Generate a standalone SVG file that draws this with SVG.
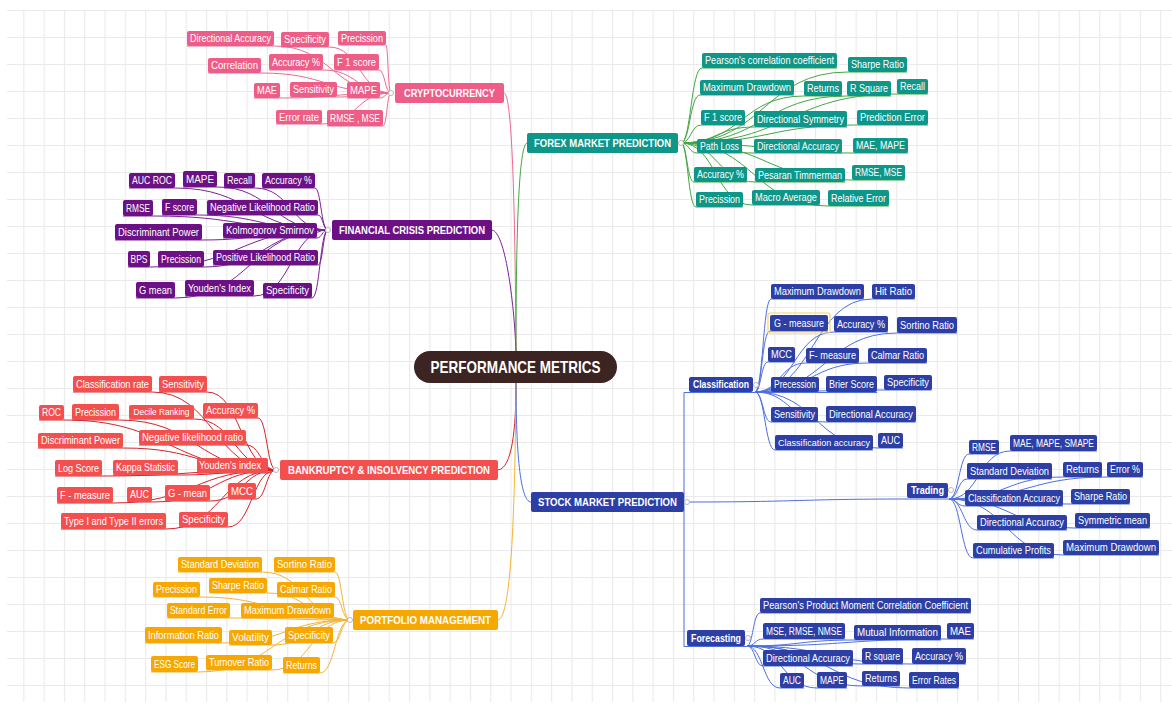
<svg xmlns="http://www.w3.org/2000/svg" width="1172" height="708" viewBox="0 0 1172 708">
<style>
text{font-family:"Liberation Sans",Arial,sans-serif;fill:#fff;text-anchor:middle;font-size:10.5px}
.b{font-weight:bold;font-size:11.5px}
.s{font-weight:bold;font-size:10.5px}
.pk rect{fill:#ee5c88}
.pu rect{fill:#6b1185}
.rd rect{fill:#f44f4f}
.or rect{fill:#f7a800}
.tl rect{fill:#0e9688}
.bl rect{fill:#2d3fa5}
#connectors path{fill:none;stroke-width:1}
.cpk path{stroke:#ec6a92}
.cpu path{stroke:#7b2296}
.crd path{stroke:#d4242a}
.cor path{stroke:#f5b335}
.ctl path{stroke:#44a644}
.cbl path{stroke:#4d6fe0}
.mk{fill:#fff;stroke:#b8b8b8;stroke-width:1}
</style>
<defs>
<pattern id="grid" x="3" y="10" width="20.3" height="27" patternUnits="userSpaceOnUse">
<path d="M0,0.5H20.3M0.5,0V27" stroke="#eaeaea" stroke-width="1.2" fill="none"/>
</pattern>
</defs>
<rect width="1172" height="708" fill="#fff"/>
<rect x="7" y="10" width="1165" height="692" fill="url(#grid)"/>

<g id="connectors">
<g class="cpk">
<path d="M504,93C512,93 515,200 516,351"/>
<path d="M187,46H274C332,46 332,93 391,93"/>
<path d="M281,47H329C360,47 360,93 391,93"/>
<path d="M338,45H386C388,45 388,93 391,93"/>
<path d="M208,73H261C326,73 326,93 391,93"/>
<path d="M269,70H323C357,70 357,93 391,93"/>
<path d="M334,70H379C385,70 385,93 391,93"/>
<path d="M254,98H280C335,98 335,93 391,93"/>
<path d="M290,97H337C364,97 364,93 391,93"/>
<path d="M347,98H380C385,98 385,93 391,93"/>
<path d="M276,124H322C356,124 356,93 391,93"/>
<path d="M327,126H383C387,126 387,93 391,93"/>
</g>
<g class="cpu">
<path d="M492,230C505,232 514,300 516,351"/>
<path d="M129,188H175C251,188 251,230 328,230"/>
<path d="M183,187H217C272,187 272,230 328,230"/>
<path d="M224,188H255C291,188 291,230 328,230"/>
<path d="M262,188H315C321,188 321,230 328,230"/>
<path d="M123,216H153C240,216 240,230 328,230"/>
<path d="M162,215H197C262,215 262,230 328,230"/>
<path d="M207,215H318C323,215 323,230 328,230"/>
<path d="M115,240H202C265,240 265,230 328,230"/>
<path d="M223,238H317C322,238 322,230 328,230"/>
<path d="M128,267H150C239,267 239,230 328,230"/>
<path d="M158,267H204C266,267 266,230 328,230"/>
<path d="M213,265H318C323,265 323,230 328,230"/>
<path d="M136,298H175C251,298 251,230 328,230"/>
<path d="M185,296H254C291,296 291,230 328,230"/>
<path d="M263,298H312C320,298 320,230 328,230"/>
</g>
<g class="crd">
<path d="M516,383C516,430 512,468 498,470"/>
<path d="M73,392H152C214,392 214,470 276,470"/>
<path d="M159,392H207C241,392 241,470 276,470"/>
<path d="M203,418H258C267,418 267,470 276,470"/>
<path d="M39,420H64C170,420 170,470 276,470"/>
<path d="M72,420H119C197,420 197,470 276,470"/>
<path d="M129,419H194C235,419 235,470 276,470"/>
<path d="M139,445H246C261,445 261,470 276,470"/>
<path d="M38,448H123C199,448 199,470 276,470"/>
<path d="M197,473H268C272,473 272,470 276,470"/>
<path d="M55,476H102C189,476 189,470 276,470"/>
<path d="M113,475H178C227,475 227,470 276,470"/>
<path d="M57,503H113C194,503 194,470 276,470"/>
<path d="M127,502H152C214,502 214,470 276,470"/>
<path d="M165,501H210C243,501 243,470 276,470"/>
<path d="M228,499H256C266,499 266,470 276,470"/>
<path d="M61,529H166C221,529 221,470 276,470"/>
<path d="M179,527H228C252,527 252,470 276,470"/>
</g>
<g class="cor">
<path d="M516,383C515,500 512,618 498,620"/>
<path d="M178,572H262C306,572 306,620 350,620"/>
<path d="M274,572H335C342,572 342,620 350,620"/>
<path d="M153,597H200C275,597 275,620 350,620"/>
<path d="M209,593H267C308,593 308,620 350,620"/>
<path d="M277,597H335C342,597 342,620 350,620"/>
<path d="M167,618H230C290,618 290,620 350,620"/>
<path d="M241,618H334C342,618 342,620 350,620"/>
<path d="M145,643H222C286,643 286,620 350,620"/>
<path d="M229,645H272C311,645 311,620 350,620"/>
<path d="M285,643H333C341,643 341,620 350,620"/>
<path d="M151,672H198C274,672 274,620 350,620"/>
<path d="M206,670H272C311,670 311,620 350,620"/>
<path d="M283,673H320C335,673 335,620 350,620"/>
</g>
<g class="ctl">
<path d="M527,143C518,145 516,250 516,351"/>
<path d="M681,143C691,143 691,68 702,68H837"/>
<path d="M681,143C764,143 764,72 848,72H907"/>
<path d="M681,143C690,143 690,95 700,95H794"/>
<path d="M681,143C742,143 742,96 804,96H842"/>
<path d="M681,143C764,143 764,96 847,96H891"/>
<path d="M681,143C789,143 789,94 897,94H928"/>
<path d="M681,143C691,143 691,125 701,125H745"/>
<path d="M681,143C717,143 717,127 754,127H847"/>
<path d="M681,143C769,143 769,125 857,125H928"/>
<path d="M681,143C689,143 689,153 697,153H742"/>
<path d="M681,143C717,143 717,153 754,153H842"/>
<path d="M681,143C767,143 767,153 853,153H908"/>
<path d="M681,143C687,143 687,182 694,182H747"/>
<path d="M681,143C718,143 718,182 755,182H845"/>
<path d="M681,143C766,143 766,180 852,180H905"/>
<path d="M681,143C688,143 688,207 696,207H743"/>
<path d="M681,143C716,143 716,205 752,205H820"/>
<path d="M681,143C754,143 754,206 828,206H889"/>
</g>
<g class="cbl">
<path d="M516,383C516,450 520,502 531,502"/>
<path d="M684,502V392.5H755"/>
<path d="M684,502V646.5H747"/>
<path d="M687,502C800,502 800,499 906,499H949"/>
<path d="M755,392C763,392 763,299 771,299H864"/>
<path d="M755,392C813,392 813,299 872,299H915"/>
<path d="M755,392C762,392 762,331 770,331H828"/>
<path d="M755,392C794,392 794,332 834,332H888"/>
<path d="M755,392C826,392 826,333 897,333H957"/>
<path d="M755,392C761,392 761,362 768,362H795"/>
<path d="M755,392C780,392 780,363 806,363H859"/>
<path d="M755,392C811,392 811,363 868,363H927"/>
<path d="M755,392.5H877"/>
<path d="M755,392C819,392 819,390 884,390H932"/>
<path d="M755,392C763,392 763,422 771,422H818"/>
<path d="M755,392C790,392 790,422 826,422H916"/>
<path d="M755,392C765,392 765,450 775,450H873"/>
<path d="M755,392C816,392 816,448 878,448H903"/>
<path d="M949,499C959,499 959,454 969,454H999"/>
<path d="M949,499C979,499 979,451 1010,451H1097"/>
<path d="M949,499C958,499 958,479 967,479H1052"/>
<path d="M949,499C1006,499 1006,477 1063,477H1102"/>
<path d="M949,499C1028,499 1028,477 1107,477H1143"/>
<path d="M949,499C957,499 957,506 965,506H1063"/>
<path d="M949,499C1010,499 1010,504 1071,504H1130"/>
<path d="M949,499C963,499 963,530 977,530H1067"/>
<path d="M949,499C1012,499 1012,528 1075,528H1150"/>
<path d="M949,499C961,499 961,558 973,558H1054"/>
<path d="M949,499C1006,499 1006,555 1063,555H1159"/>
<path d="M747,646C753,646 753,613 760,613H971"/>
<path d="M747,646C755,646 755,639 763,639H845"/>
<path d="M747,646C800,646 800,640 854,640H941"/>
<path d="M747,646C847,646 847,639 947,639H974"/>
<path d="M747,646C755,646 755,666 763,666H853"/>
<path d="M747,646C804,646 804,664 862,664H903"/>
<path d="M747,646C829,646 829,664 912,664H966"/>
<path d="M747,646C763,646 763,688 780,688H804"/>
<path d="M747,646C782,646 782,688 817,688H847"/>
<path d="M747,646C804,646 804,686 862,686H900"/>
<path d="M747,646C828,646 828,688 909,688H959"/>
</g>
</g>

<g id="center"><rect x="414" y="351" width="203" height="32" rx="16" fill="#3b2422"/><text x="515.5" y="373" style="font-size:17px;font-weight:bold" textLength="170" lengthAdjust="spacingAndGlyphs">PERFORMANCE METRICS</text></g>

<g class="pk">
<g id="crypto"><rect x="395" y="83" width="109" height="20" rx="2"/><text class="b" x="449.5" y="97" textLength="91" lengthAdjust="spacingAndGlyphs">CRYPTOCURRENCY</text></g>
<g id="cr1"><rect x="187" y="31" width="87" height="15" rx="2"/><text x="230.5" y="42" textLength="81" lengthAdjust="spacingAndGlyphs">Directional Accuracy</text></g>
<g id="cr2"><rect x="281" y="32" width="48" height="15" rx="2"/><text x="305" y="43" textLength="42" lengthAdjust="spacingAndGlyphs">Specificity</text></g>
<g id="cr3"><rect x="338" y="31" width="48" height="14" rx="2"/><text x="362" y="41.5" textLength="42" lengthAdjust="spacingAndGlyphs">Precission</text></g>
<g id="cr4"><rect x="208" y="58" width="53" height="15" rx="2"/><text x="234.5" y="69" textLength="47" lengthAdjust="spacingAndGlyphs">Correlation</text></g>
<g id="cr5"><rect x="269" y="54" width="54" height="16" rx="2"/><text x="296" y="65.5" textLength="48" lengthAdjust="spacingAndGlyphs">Accuracy %</text></g>
<g id="cr6"><rect x="334" y="54" width="45" height="16" rx="2"/><text x="356.5" y="65.5" textLength="39" lengthAdjust="spacingAndGlyphs">F 1 score</text></g>
<g id="cr7"><rect x="254" y="83" width="26" height="15" rx="2"/><text x="267" y="94" textLength="20" lengthAdjust="spacingAndGlyphs">MAE</text></g>
<g id="cr8"><rect x="290" y="82" width="47" height="15" rx="2"/><text x="313.5" y="93" textLength="41" lengthAdjust="spacingAndGlyphs">Sensitivity</text></g>
<g id="cr9"><rect x="347" y="82" width="33" height="16" rx="2"/><text x="363.5" y="93.5" textLength="27" lengthAdjust="spacingAndGlyphs">MAPE</text></g>
<g id="cr10"><rect x="276" y="110" width="46" height="14" rx="2"/><text x="299" y="120.5" textLength="40" lengthAdjust="spacingAndGlyphs">Error rate</text></g>
<g id="cr11"><rect x="327" y="110" width="56" height="16" rx="2"/><text x="355" y="121.5" textLength="50" lengthAdjust="spacingAndGlyphs">RMSE , MSE</text></g>
</g>

<g class="pu">
<g id="fincrisis"><rect x="332" y="220" width="160" height="20" rx="2"/><text class="b" x="412" y="234" textLength="146" lengthAdjust="spacingAndGlyphs">FINANCIAL CRISIS PREDICTION</text></g>
<g id="fc1"><rect x="129" y="173" width="46" height="15" rx="2"/><text x="152" y="184" textLength="40" lengthAdjust="spacingAndGlyphs">AUC ROC</text></g>
<g id="fc2"><rect x="183" y="171" width="34" height="16" rx="2"/><text x="200" y="182.5" textLength="28" lengthAdjust="spacingAndGlyphs">MAPE</text></g>
<g id="fc3"><rect x="224" y="173" width="31" height="15" rx="2"/><text x="239.5" y="184" textLength="25" lengthAdjust="spacingAndGlyphs">Recall</text></g>
<g id="fc4"><rect x="262" y="173" width="53" height="15" rx="2"/><text x="288.5" y="184" textLength="47" lengthAdjust="spacingAndGlyphs">Accuracy %</text></g>
<g id="fc5"><rect x="123" y="200" width="30" height="16" rx="2"/><text x="138" y="211.5" textLength="24" lengthAdjust="spacingAndGlyphs">RMSE</text></g>
<g id="fc6"><rect x="162" y="199" width="35" height="16" rx="2"/><text x="179.5" y="210.5" textLength="29" lengthAdjust="spacingAndGlyphs">F score</text></g>
<g id="fc7"><rect x="207" y="200" width="111" height="15" rx="2"/><text x="262.5" y="211" textLength="105" lengthAdjust="spacingAndGlyphs">Negative Likelihood Ratio</text></g>
<g id="fc8"><rect x="115" y="224" width="87" height="16" rx="2"/><text x="158.5" y="235.5" textLength="81" lengthAdjust="spacingAndGlyphs">Discriminant Power</text></g>
<g id="fc9"><rect x="223" y="223" width="94" height="15" rx="2"/><text x="270" y="234" textLength="88" lengthAdjust="spacingAndGlyphs">Kolmogorov Smirnov</text></g>
<g id="fc10"><rect x="128" y="251" width="22" height="16" rx="2"/><text x="139" y="262.5" textLength="17" lengthAdjust="spacingAndGlyphs">BPS</text></g>
<g id="fc11"><rect x="158" y="251" width="46" height="16" rx="2"/><text x="181" y="262.5" textLength="40" lengthAdjust="spacingAndGlyphs">Precission</text></g>
<g id="fc12"><rect x="213" y="250" width="105" height="15" rx="2"/><text x="265.5" y="261" textLength="99" lengthAdjust="spacingAndGlyphs">Positive Likelihood Ratio</text></g>
<g id="fc13"><rect x="136" y="282" width="39" height="16" rx="2"/><text x="155.5" y="293.5" textLength="33" lengthAdjust="spacingAndGlyphs">G mean</text></g>
<g id="fc14"><rect x="185" y="280" width="69" height="16" rx="2"/><text x="219.5" y="291.5" textLength="63" lengthAdjust="spacingAndGlyphs">Youden's Index</text></g>
<g id="fc15"><rect x="263" y="283" width="49" height="15" rx="2"/><text x="287.5" y="294" textLength="43" lengthAdjust="spacingAndGlyphs">Specificity</text></g>
</g>

<g class="rd">
<g id="bankruptcy"><rect x="280" y="460" width="218" height="20" rx="2"/><text class="b" x="389" y="474" textLength="202" lengthAdjust="spacingAndGlyphs">BANKRUPTCY &amp; INSOLVENCY PREDICTION</text></g>
<g id="bk1"><rect x="73" y="376" width="79" height="16" rx="2"/><text x="112.5" y="387.5" textLength="73" lengthAdjust="spacingAndGlyphs">Classification rate</text></g>
<g id="bk2"><rect x="159" y="376" width="48" height="16" rx="2"/><text x="183" y="387.5" textLength="42" lengthAdjust="spacingAndGlyphs">Sensitivity</text></g>
<g id="bk3"><rect x="203" y="403" width="55" height="15" rx="2"/><text x="230.5" y="414" textLength="49" lengthAdjust="spacingAndGlyphs">Accuracy %</text></g>
<g id="bk4"><rect x="39" y="405" width="25" height="15" rx="2"/><text x="51.5" y="416" textLength="19" lengthAdjust="spacingAndGlyphs">ROC</text></g>
<g id="bk5"><rect x="72" y="404" width="47" height="16" rx="2"/><text x="95.5" y="415.5" textLength="41" lengthAdjust="spacingAndGlyphs">Precission</text></g>
<g id="bk6"><rect x="129" y="405" width="65" height="14" rx="2"/><text x="161.5" y="415" style="font-size:9px" textLength="56" lengthAdjust="spacingAndGlyphs">Decile Ranking</text></g>
<g id="bk7"><rect x="139" y="430" width="107" height="15" rx="2"/><text x="192.5" y="441" textLength="101" lengthAdjust="spacingAndGlyphs">Negative likelihood ratio</text></g>
<g id="bk8"><rect x="38" y="433" width="85" height="15" rx="2"/><text x="80.5" y="444" textLength="79" lengthAdjust="spacingAndGlyphs">Discriminant Power</text></g>
<g id="bk9"><rect x="197" y="458" width="71" height="15" rx="2"/><text x="230" y="469" textLength="62" lengthAdjust="spacingAndGlyphs">Youden's index</text></g>
<g id="bk10"><rect x="55" y="460" width="47" height="16" rx="2"/><text x="78.5" y="471.5" textLength="41" lengthAdjust="spacingAndGlyphs">Log Score</text></g>
<g id="bk11"><rect x="113" y="460" width="65" height="15" rx="2"/><text x="145.5" y="471" textLength="59" lengthAdjust="spacingAndGlyphs">Kappa Statistic</text></g>
<g id="bk12"><rect x="57" y="487" width="56" height="16" rx="2"/><text x="85" y="498.5" textLength="50" lengthAdjust="spacingAndGlyphs">F - measure</text></g>
<g id="bk13"><rect x="127" y="487" width="25" height="15" rx="2"/><text x="139.5" y="498" textLength="19" lengthAdjust="spacingAndGlyphs">AUC</text></g>
<g id="bk14"><rect x="165" y="485" width="45" height="16" rx="2"/><text x="187.5" y="496.5" textLength="39" lengthAdjust="spacingAndGlyphs">G - mean</text></g>
<g id="bk15"><rect x="228" y="483" width="28" height="16" rx="2"/><text x="242" y="494.5" textLength="22" lengthAdjust="spacingAndGlyphs">MCC</text></g>
<g id="bk16"><rect x="61" y="513" width="105" height="16" rx="2"/><text x="113.5" y="524.5" textLength="99" lengthAdjust="spacingAndGlyphs">Type I and Type II errors</text></g>
<g id="bk17"><rect x="179" y="512" width="49" height="15" rx="2"/><text x="203.5" y="523" textLength="43" lengthAdjust="spacingAndGlyphs">Specificity</text></g>
</g>

<g class="or">
<g id="portfolio"><rect x="353" y="610" width="145" height="20" rx="2"/><text class="b" x="425.5" y="624" textLength="131" lengthAdjust="spacingAndGlyphs">PORTFOLIO MANAGEMENT</text></g>
<g id="pf1"><rect x="178" y="557" width="84" height="15" rx="2"/><text x="220" y="568" textLength="78" lengthAdjust="spacingAndGlyphs">Standard Deviation</text></g>
<g id="pf2"><rect x="274" y="557" width="61" height="15" rx="2"/><text x="304.5" y="568" textLength="55" lengthAdjust="spacingAndGlyphs">Sortino Ratio</text></g>
<g id="pf3"><rect x="153" y="582" width="47" height="15" rx="2"/><text x="176.5" y="593" textLength="41" lengthAdjust="spacingAndGlyphs">Precission</text></g>
<g id="pf4"><rect x="209" y="578" width="58" height="15" rx="2"/><text x="238" y="589" textLength="52" lengthAdjust="spacingAndGlyphs">Sharpe Ratio</text></g>
<g id="pf5"><rect x="277" y="582" width="58" height="15" rx="2"/><text x="306" y="593" textLength="52" lengthAdjust="spacingAndGlyphs">Calmar Ratio</text></g>
<g id="pf6"><rect x="167" y="603" width="63" height="15" rx="2"/><text x="198.5" y="614" textLength="57" lengthAdjust="spacingAndGlyphs">Standard Error</text></g>
<g id="pf7"><rect x="241" y="603" width="93" height="15" rx="2"/><text x="287.5" y="614" textLength="87" lengthAdjust="spacingAndGlyphs">Maximum Drawdown</text></g>
<g id="pf8"><rect x="145" y="627" width="77" height="16" rx="2"/><text x="183.5" y="638.5" textLength="71" lengthAdjust="spacingAndGlyphs">Information Ratio</text></g>
<g id="pf9"><rect x="229" y="630" width="43" height="15" rx="2"/><text x="250.5" y="641" textLength="37" lengthAdjust="spacingAndGlyphs">Volatility</text></g>
<g id="pf10"><rect x="285" y="627" width="48" height="16" rx="2"/><text x="309" y="638.5" textLength="42" lengthAdjust="spacingAndGlyphs">Specificity</text></g>
<g id="pf11"><rect x="151" y="656" width="47" height="16" rx="2"/><text x="174.5" y="667.5" textLength="41" lengthAdjust="spacingAndGlyphs">ESG Score</text></g>
<g id="pf12"><rect x="206" y="655" width="66" height="15" rx="2"/><text x="239" y="666" textLength="60" lengthAdjust="spacingAndGlyphs">Turnover Ratio</text></g>
<g id="pf13"><rect x="283" y="657" width="37" height="16" rx="2"/><text x="301.5" y="668.5" textLength="31" lengthAdjust="spacingAndGlyphs">Returns</text></g>
</g>

<g class="tl">
<g id="forex"><rect x="527" y="133" width="151" height="20" rx="2"/><text class="b" x="602.5" y="147" textLength="137" lengthAdjust="spacingAndGlyphs">FOREX MARKET PREDICTION</text></g>
<g id="fx1"><rect x="702" y="53" width="135" height="15" rx="2"/><text x="769.5" y="64" textLength="129" lengthAdjust="spacingAndGlyphs">Pearson's correlation coefficient</text></g>
<g id="fx2"><rect x="848" y="57" width="59" height="15" rx="2"/><text x="877.5" y="68" textLength="53" lengthAdjust="spacingAndGlyphs">Sharpe Ratio</text></g>
<g id="fx3"><rect x="700" y="80" width="94" height="15" rx="2"/><text x="747" y="91" textLength="88" lengthAdjust="spacingAndGlyphs">Maximum Drawdown</text></g>
<g id="fx4"><rect x="804" y="81" width="38" height="15" rx="2"/><text x="823" y="92" textLength="32" lengthAdjust="spacingAndGlyphs">Returns</text></g>
<g id="fx5"><rect x="847" y="81" width="44" height="15" rx="2"/><text x="869" y="92" textLength="38" lengthAdjust="spacingAndGlyphs">R Square</text></g>
<g id="fx6"><rect x="897" y="79" width="31" height="15" rx="2"/><text x="912.5" y="90" textLength="25" lengthAdjust="spacingAndGlyphs">Recall</text></g>
<g id="fx7"><rect x="701" y="110" width="44" height="15" rx="2"/><text x="723" y="121" textLength="38" lengthAdjust="spacingAndGlyphs">F 1 score</text></g>
<g id="fx8"><rect x="754" y="111" width="93" height="16" rx="2"/><text x="800.5" y="122.5" textLength="87" lengthAdjust="spacingAndGlyphs">Directional Symmetry</text></g>
<g id="fx9"><rect x="857" y="110" width="71" height="15" rx="2"/><text x="892.5" y="121" textLength="65" lengthAdjust="spacingAndGlyphs">Prediction Error</text></g>
<g id="fx10"><rect x="697" y="139" width="45" height="14" rx="2"/><text x="719.5" y="149.5" textLength="39" lengthAdjust="spacingAndGlyphs">Path Loss</text></g>
<g id="fx11"><rect x="754" y="139" width="88" height="14" rx="2"/><text x="798" y="149.5" textLength="82" lengthAdjust="spacingAndGlyphs">Directional Accuracy</text></g>
<g id="fx12"><rect x="853" y="138" width="55" height="15" rx="2"/><text x="880.5" y="149" textLength="49" lengthAdjust="spacingAndGlyphs">MAE, MAPE</text></g>
<g id="fx13"><rect x="694" y="167" width="53" height="15" rx="2"/><text x="720.5" y="178" textLength="47" lengthAdjust="spacingAndGlyphs">Accuracy %</text></g>
<g id="fx14"><rect x="755" y="168" width="90" height="14" rx="2"/><text x="800" y="178.5" textLength="84" lengthAdjust="spacingAndGlyphs">Pesaran Timmerman</text></g>
<g id="fx15"><rect x="852" y="165" width="53" height="15" rx="2"/><text x="878.5" y="176" textLength="47" lengthAdjust="spacingAndGlyphs">RMSE, MSE</text></g>
<g id="fx16"><rect x="696" y="192" width="47" height="15" rx="2"/><text x="719.5" y="203" textLength="41" lengthAdjust="spacingAndGlyphs">Precission</text></g>
<g id="fx17"><rect x="752" y="190" width="68" height="15" rx="2"/><text x="786" y="201" textLength="62" lengthAdjust="spacingAndGlyphs">Macro Average</text></g>
<g id="fx18"><rect x="828" y="190" width="61" height="16" rx="2"/><text x="858.5" y="201.5" textLength="55" lengthAdjust="spacingAndGlyphs">Relative Error</text></g>
</g>

<g class="bl">
<g id="stock"><rect x="531" y="492" width="153" height="20" rx="2"/><text class="b" x="607.5" y="506" textLength="139" lengthAdjust="spacingAndGlyphs">STOCK MARKET PREDICTION</text></g>
<g id="classification"><rect x="689" y="377" width="64" height="15" rx="2"/><text class="s" x="721" y="388" textLength="56" lengthAdjust="spacingAndGlyphs">Classification</text></g>
<g id="trading"><rect x="907" y="483" width="41" height="15" rx="2"/><text class="s" x="927.5" y="494" textLength="33" lengthAdjust="spacingAndGlyphs">Trading</text></g>
<g id="forecasting"><rect x="687" y="630" width="58" height="16" rx="2"/><text class="s" x="716" y="641.5" textLength="50" lengthAdjust="spacingAndGlyphs">Forecasting</text></g>
<g id="cl1"><rect x="771" y="284" width="93" height="15" rx="2"/><text x="817.5" y="295" textLength="87" lengthAdjust="spacingAndGlyphs">Maximum Drawdown</text></g>
<g id="cl2"><rect x="872" y="284" width="43" height="15" rx="2"/><text x="893.5" y="295" textLength="37" lengthAdjust="spacingAndGlyphs">Hit Ratio</text></g>
<g id="cl3"><rect x="768" y="313" width="62" height="20" rx="2" stroke="#f2d36b" stroke-width="1.2" style="fill:none"/><rect x="770" y="315" width="58" height="16" rx="2"/><text x="799" y="326.5" textLength="50" lengthAdjust="spacingAndGlyphs">G - measure</text></g>
<g id="cl4"><rect x="834" y="316" width="54" height="16" rx="2"/><text x="861" y="327.5" textLength="48" lengthAdjust="spacingAndGlyphs">Accuracy %</text></g>
<g id="cl5"><rect x="897" y="317" width="60" height="16" rx="2"/><text x="927" y="328.5" textLength="54" lengthAdjust="spacingAndGlyphs">Sortino Ratio</text></g>
<g id="cl6"><rect x="768" y="347" width="27" height="15" rx="2"/><text x="781.5" y="358" textLength="21" lengthAdjust="spacingAndGlyphs">MCC</text></g>
<g id="cl7"><rect x="806" y="348" width="53" height="15" rx="2"/><text x="832.5" y="359" textLength="47" lengthAdjust="spacingAndGlyphs">F- measure</text></g>
<g id="cl8"><rect x="868" y="348" width="59" height="15" rx="2"/><text x="897.5" y="359" textLength="53" lengthAdjust="spacingAndGlyphs">Calmar Ratio</text></g>
<g id="cl9"><rect x="771" y="377" width="48" height="15" rx="2"/><text x="795" y="388" textLength="42" lengthAdjust="spacingAndGlyphs">Precession</text></g>
<g id="cl10"><rect x="826" y="376" width="51" height="16" rx="2"/><text x="851.5" y="387.5" textLength="45" lengthAdjust="spacingAndGlyphs">Brier Score</text></g>
<g id="cl11"><rect x="884" y="375" width="48" height="15" rx="2"/><text x="908" y="386" textLength="42" lengthAdjust="spacingAndGlyphs">Specificity</text></g>
<g id="cl12"><rect x="771" y="407" width="47" height="15" rx="2"/><text x="794.5" y="418" textLength="41" lengthAdjust="spacingAndGlyphs">Sensitivity</text></g>
<g id="cl13"><rect x="826" y="406" width="90" height="16" rx="2"/><text x="871" y="417.5" textLength="84" lengthAdjust="spacingAndGlyphs">Directional Accuracy</text></g>
<g id="cl14"><rect x="775" y="435" width="98" height="15" rx="2"/><text x="824" y="446" style="font-size:9px" textLength="92" lengthAdjust="spacingAndGlyphs">Classification accuracy</text></g>
<g id="cl15"><rect x="878" y="433" width="25" height="15" rx="2"/><text x="890.5" y="444" textLength="19" lengthAdjust="spacingAndGlyphs">AUC</text></g>
<g id="tr1"><rect x="969" y="440" width="30" height="14" rx="2"/><text x="984" y="450.5" textLength="24" lengthAdjust="spacingAndGlyphs">RMSE</text></g>
<g id="tr2"><rect x="1010" y="435" width="87" height="16" rx="2"/><text x="1053.5" y="446.5" textLength="81" lengthAdjust="spacingAndGlyphs">MAE, MAPE, SMAPE</text></g>
<g id="tr3"><rect x="967" y="463" width="85" height="16" rx="2"/><text x="1009.5" y="474.5" textLength="79" lengthAdjust="spacingAndGlyphs">Standard Deviation</text></g>
<g id="tr4"><rect x="1063" y="462" width="39" height="15" rx="2"/><text x="1082.5" y="473" textLength="33" lengthAdjust="spacingAndGlyphs">Returns</text></g>
<g id="tr5"><rect x="1107" y="462" width="36" height="15" rx="2"/><text x="1125" y="473" textLength="30" lengthAdjust="spacingAndGlyphs">Error %</text></g>
<g id="tr6"><rect x="965" y="490" width="98" height="16" rx="2"/><text x="1014" y="501.5" textLength="92" lengthAdjust="spacingAndGlyphs">Classification Accuracy</text></g>
<g id="tr7"><rect x="1071" y="489" width="59" height="15" rx="2"/><text x="1100.5" y="500" textLength="53" lengthAdjust="spacingAndGlyphs">Sharpe Ratio</text></g>
<g id="tr8"><rect x="977" y="515" width="90" height="15" rx="2"/><text x="1022" y="526" textLength="84" lengthAdjust="spacingAndGlyphs">Directional Accuracy</text></g>
<g id="tr9"><rect x="1075" y="513" width="75" height="15" rx="2"/><text x="1112.5" y="524" textLength="69" lengthAdjust="spacingAndGlyphs">Symmetric mean</text></g>
<g id="tr10"><rect x="973" y="543" width="81" height="15" rx="2"/><text x="1013.5" y="554" textLength="75" lengthAdjust="spacingAndGlyphs">Cumulative Profits</text></g>
<g id="tr11"><rect x="1063" y="540" width="96" height="15" rx="2"/><text x="1111" y="551" textLength="90" lengthAdjust="spacingAndGlyphs">Maximum Drawdown</text></g>
<g id="fo1"><rect x="760" y="598" width="211" height="15" rx="2"/><text x="865.5" y="609" textLength="205" lengthAdjust="spacingAndGlyphs">Pearson's Product Moment Correlation Coefficient</text></g>
<g id="fo2"><rect x="763" y="623" width="82" height="16" rx="2"/><text x="804" y="634.5" textLength="76" lengthAdjust="spacingAndGlyphs">MSE, RMSE, NMSE</text></g>
<g id="fo3"><rect x="854" y="625" width="87" height="15" rx="2"/><text x="897.5" y="636" textLength="81" lengthAdjust="spacingAndGlyphs">Mutual Information</text></g>
<g id="fo4"><rect x="947" y="623" width="27" height="16" rx="2"/><text x="960.5" y="634.5" textLength="21" lengthAdjust="spacingAndGlyphs">MAE</text></g>
<g id="fo5"><rect x="763" y="650" width="90" height="16" rx="2"/><text x="808" y="661.5" textLength="84" lengthAdjust="spacingAndGlyphs">Directional Accuracy</text></g>
<g id="fo6"><rect x="862" y="648" width="41" height="16" rx="2"/><text x="882.5" y="659.5" textLength="35" lengthAdjust="spacingAndGlyphs">R square</text></g>
<g id="fo7"><rect x="912" y="648" width="54" height="16" rx="2"/><text x="939" y="659.5" textLength="48" lengthAdjust="spacingAndGlyphs">Accuracy %</text></g>
<g id="fo8"><rect x="780" y="673" width="24" height="15" rx="2"/><text x="792" y="684" textLength="18" lengthAdjust="spacingAndGlyphs">AUC</text></g>
<g id="fo9"><rect x="817" y="672" width="30" height="16" rx="2"/><text x="832" y="683.5" textLength="24" lengthAdjust="spacingAndGlyphs">MAPE</text></g>
<g id="fo10"><rect x="862" y="671" width="38" height="15" rx="2"/><text x="881" y="682" textLength="32" lengthAdjust="spacingAndGlyphs">Returns</text></g>
<g id="fo11"><rect x="909" y="672" width="50" height="16" rx="2"/><text x="934" y="683.5" textLength="44" lengthAdjust="spacingAndGlyphs">Error Rates</text></g>
</g>

<g id="markers">
<circle class="mk" cx="391" cy="93" r="2.5"/>
<circle class="mk" cx="328" cy="230" r="2.5"/>
<circle class="mk" cx="276" cy="470" r="2.5"/>
<circle class="mk" cx="350" cy="620" r="2.5"/>
<circle class="mk" cx="681" cy="143" r="2.5"/>
<circle class="mk" cx="687" cy="502" r="2.5"/>
<circle class="mk" cx="756" cy="385" r="2.5"/>
<circle class="mk" cx="951" cy="490" r="2.5"/>
<circle class="mk" cx="748" cy="638" r="2.5"/>
</g>
</svg>
